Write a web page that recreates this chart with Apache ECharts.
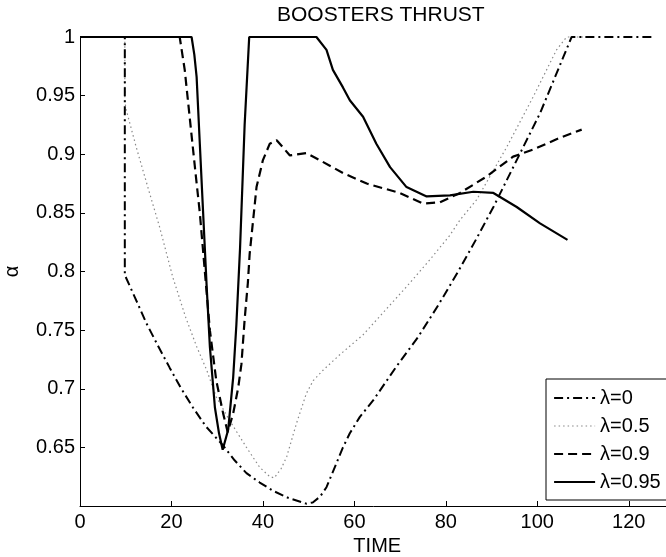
<!DOCTYPE html>
<html>
<head>
<meta charset="utf-8">
<script src="https://cdn.jsdelivr.net/npm/echarts@6/dist/echarts.min.js"></script>
<style>html,body{margin:0;padding:0;background:#fff}#c{width:666px;height:557px}</style>
</head>
<body>
<div id="c"></div>
<script>
const titleText = 'BOOSTERS THRUST';
const xName = 'TIME';
const yName = 'α';
const seriesNames = ['λ=0', 'λ=0.5', 'λ=0.9', 'λ=0.95'];
const xTicks = { min: 0, max: 130, interval: 20 };
const yTicks = { min: 0.6, max: 1, interval: 0.05 };

const lambda0 = [[0,1],[9.8,1],[9.8,0.797],[12,0.778],[14.5,0.756],[17,0.737],[19.6,0.718],[22,0.701],[24.7,0.684],[27.5,0.668],[29.8,0.658],[31.2,0.652],[33.8,0.639],[36.4,0.628],[39.3,0.62],[42.2,0.613],[45.5,0.607],[49.5,0.602],[50.9,0.603],[52.5,0.608],[53.9,0.616],[55.5,0.631],[57.5,0.65],[59,0.662],[61.2,0.676],[64.1,0.69],[69.2,0.719],[73.9,0.744],[78.3,0.771],[82.7,0.8],[86.7,0.828],[90.4,0.855],[95.5,0.895],[100.6,0.935],[105.7,0.983],[107.5,1],[125,1]];
const lambda05 = [[0,1],[9.8,1],[9.8,0.945],[10.1,0.938],[12.3,0.906],[15.2,0.867],[17.4,0.838],[20.3,0.795],[23.1,0.761],[25.5,0.736],[27.7,0.716],[29.8,0.693],[32.7,0.673],[36.4,0.65],[39.3,0.633],[41.5,0.625],[42.5,0.624],[44,0.632],[45.2,0.642],[47.3,0.67],[49.5,0.696],[51,0.707],[53.2,0.716],[56.8,0.729],[61.9,0.746],[67,0.768],[71.4,0.787],[76.5,0.81],[80.9,0.831],[83.1,0.844],[86.7,0.861],[93.3,0.906],[99.1,0.949],[104.2,0.989],[106.4,1],[110,1]];
const lambda09 = [[0,1],[21.8,1],[22.9,0.972],[24,0.931],[25.1,0.89],[26.2,0.85],[27.3,0.8],[28.4,0.75],[29.8,0.707],[31.3,0.679],[32.3,0.663],[33.5,0.679],[34.6,0.701],[35.3,0.721],[36,0.759],[36.7,0.79],[37.1,0.815],[38.6,0.872],[40,0.895],[41.5,0.909],[43,0.912],[45.9,0.899],[49.5,0.901],[52.4,0.895],[57.5,0.884],[62.7,0.875],[69.9,0.867],[75,0.858],[78.7,0.859],[83.1,0.867],[88.9,0.881],[94.7,0.898],[99.1,0.904],[104.9,0.914],[109.7,0.921]];
const lambda095 = [[0,1],[24.4,1],[25,0.985],[25.5,0.966],[26.2,0.909],[26.9,0.852],[27.7,0.787],[28.4,0.736],[29.5,0.684],[30.4,0.662],[31.2,0.648],[32.4,0.665],[33.5,0.71],[34.2,0.755],[35,0.82],[36,0.925],[37,1],[51.7,1],[53.9,0.989],[55.3,0.972],[57.5,0.957],[59,0.946],[61.9,0.932],[64.8,0.909],[67.8,0.889],[71.4,0.872],[75.8,0.864],[80.9,0.865],[86,0.868],[90.4,0.867],[95.5,0.855],[100.6,0.841],[106.6,0.827]];

const font = 'Liberation Sans, Arial, sans-serif';
const chart = echarts.init(document.getElementById('c'));
const mk = (name, data, lineStyle, z) => ({
  name, type: 'line', data, symbol: 'none', clip: false, z,
  lineStyle, itemStyle: { color: lineStyle.color }
});
chart.setOption({
  animation: false,
  backgroundColor: '#fff',
  title: {
    text: titleText, left: 272, top: 0,
    textStyle: { fontFamily: font, fontSize: 21, fontWeight: 'normal', color: '#000' }
  },
  grid: { left: 80, top: 37, bottom: 51, right: -8.5, containLabel: false, outerBoundsMode: 'none' },
  xAxis: {
    type: 'value', min: xTicks.min, max: xTicks.max, interval: xTicks.interval,
    name: xName, nameLocation: 'middle', nameGap: 28,
    nameTextStyle: { fontFamily: font, fontSize: 20, color: '#000' },
    axisLine: { show: true, lineStyle: { color: '#000', width: 1 } },
    axisTick: { show: true, inside: true, length: 5, lineStyle: { color: '#000' } },
    axisLabel: { fontFamily: font, fontSize: 20, color: '#000', margin: 6, showMaxLabel: false },
    splitLine: { show: false }
  },
  yAxis: {
    type: 'value', min: yTicks.min, max: yTicks.max, interval: yTicks.interval,
    name: yName, nameLocation: 'middle', nameGap: 58, nameRotate: 90,
    nameTextStyle: { fontFamily: font, fontSize: 20, color: '#000' },
    axisLine: { show: true, lineStyle: { color: '#000', width: 1 } },
    axisTick: { show: true, inside: true, length: 5, lineStyle: { color: '#000' } },
    axisLabel: { fontFamily: font, fontSize: 20, color: '#000', margin: 5, showMinLabel: false },
    splitLine: { show: false }
  },
  legend: {
    orient: 'vertical', left: 546, top: 379,
    padding: [9, 7, 8, 7], itemGap: 8, itemWidth: 41, itemHeight: 14,
    borderColor: '#000', borderWidth: 1, backgroundColor: '#fff',
    textStyle: { fontFamily: font, fontSize: 20, color: '#000' },
    itemStyle: { opacity: 0, color: 'rgba(0,0,0,0)', borderColor: 'rgba(0,0,0,0)', borderWidth: 0 },
    data: [
      { name: seriesNames[0], lineStyle: { width: 2 } },
      { name: seriesNames[1], lineStyle: { width: 1.2 } },
      { name: seriesNames[2], lineStyle: { width: 2.2 } },
      { name: seriesNames[3], lineStyle: { width: 2.2 } }
    ]
  },
  series: [
    mk(seriesNames[0], lambda0, { color: '#000', width: 2, type: [9, 4, 2, 4] }, 3),
    mk(seriesNames[1], lambda05, { color: '#888', width: 1.2, type: [1.5, 3] }, 2),
    mk(seriesNames[2], lambda09, { color: '#000', width: 2.2, type: [9, 5] }, 4),
    mk(seriesNames[3], lambda095, { color: '#000', width: 2.2, type: 'solid' }, 5)
  ]
});
</script>
</body>
</html>
